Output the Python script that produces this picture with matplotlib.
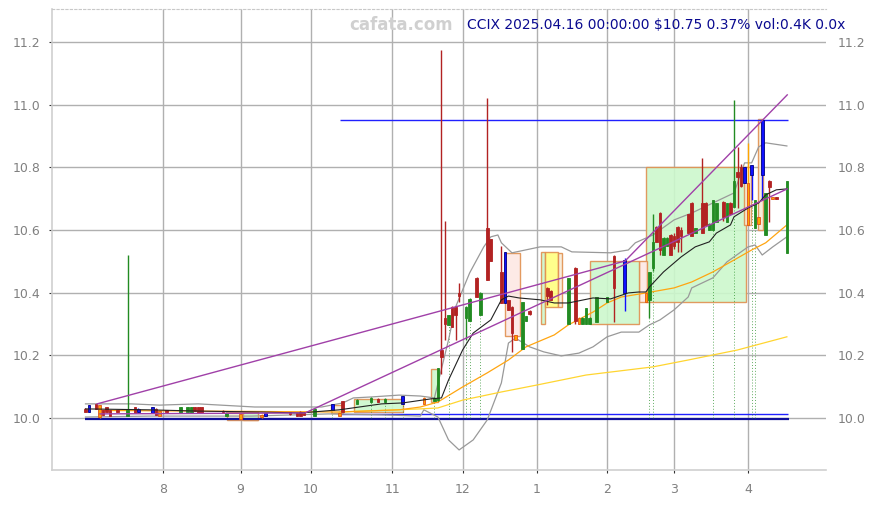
import matplotlib
matplotlib.use('Agg')
import matplotlib.pyplot as plt
from matplotlib.patches import Rectangle

# x axis is a trading-day index: 0 = 2024-07-01, 199 = 2025-04-16
month_idx = [22, 44, 64, 87, 107, 128, 148, 167, 188]
month_labels = ['8', '9', '10', '11', '12', '1', '2', '3', '4']
price_ticks = [10.0, 10.2, 10.4, 10.6, 10.8, 11.0, 11.2]

candle_idx = [0, 1, 3, 4, 5, 6, 7, 9, 12, 14,
              15, 19, 20, 21, 23, 27, 29, 30, 31, 32,
              33, 39, 40, 44, 50, 51, 58, 60, 61, 62,
              65, 70, 72, 73, 77, 81, 83, 85, 90, 96,
              99, 100, 101, 102, 103, 104, 105, 106, 108, 109,
              111, 112, 114, 115, 118, 119, 120, 121, 122, 124,
              125, 126, 131, 132, 137, 139, 140, 141, 142, 143,
              145, 148, 150, 153, 159, 160, 161, 162, 163, 164,
              165, 166, 167, 168, 169, 171, 172, 173, 175, 176,
              177, 178, 179, 181, 182, 183, 184, 185, 186, 187,
              188, 189, 190, 191, 192, 193, 194, 195, 196, 199]
opens = [10.030, 10.020, 10.045, 10.040, 10.025, 10.035, 10.025, 10.022, 10.006, 10.035,
         10.020, 10.035, 10.030, 10.022, 10.022, 10.016, 10.020, 10.016, 10.035, 10.035,
         10.035, 10.020, 10.006, 10.012, 10.010, 10.006, 10.015, 10.016, 10.020, 10.016,
         10.006, 10.025, 10.016, 10.054, 10.045, 10.052, 10.060, 10.050, 10.045, 10.065,
         10.055, 10.057, 10.217, 10.320, 10.297, 10.355, 10.355, 10.400, 10.320, 10.310,
         10.447, 10.330, 10.606, 10.570, 10.466, 10.367, 10.377, 10.355, 10.265, 10.220,
         10.310, 10.340, 10.415, 10.405, 10.300, 10.480, 10.320, 10.300, 10.300, 10.300,
         10.306, 10.370, 10.517, 10.505, 10.400, 10.377, 10.480, 10.610, 10.655, 10.520,
         10.550, 10.585, 10.580, 10.610, 10.600, 10.650, 10.686, 10.590, 10.686, 10.686,
         10.600, 10.600, 10.625, 10.690, 10.625, 10.686, 10.673, 10.785, 10.800, 10.750,
         10.750, 10.807, 10.607, 10.640, 10.776, 10.584, 10.757, 10.705, 10.705, 10.527]
highs = [10.032, 10.042, 10.046, 10.042, 10.026, 10.036, 10.026, 10.024, 10.520, 10.036,
         10.032, 10.036, 10.031, 10.024, 10.024, 10.036, 10.036, 10.036, 10.036, 10.036,
         10.036, 10.025, 10.018, 10.013, 10.012, 10.017, 10.018, 10.017, 10.021, 10.017,
         10.032, 10.046, 10.017, 10.055, 10.060, 10.068, 10.065, 10.063, 10.071, 10.066,
         10.068, 10.160, 11.175, 10.630, 10.330, 10.357, 10.357, 10.430, 10.356, 10.382,
         10.450, 10.402, 11.020, 10.572, 10.550, 10.530, 10.378, 10.357, 10.266, 10.370,
         10.326, 10.345, 10.417, 10.407, 10.447, 10.482, 10.321, 10.321, 10.351, 10.321,
         10.387, 10.386, 10.520, 10.510, 10.401, 10.466, 10.650, 10.612, 10.657, 10.576,
         10.576, 10.587, 10.590, 10.612, 10.610, 10.652, 10.688, 10.606, 10.830, 10.688,
         10.621, 10.697, 10.687, 10.692, 10.687, 10.688, 11.015, 10.865, 10.810, 10.802,
         10.877, 10.808, 10.697, 10.642, 10.950, 10.719, 10.758, 10.706, 10.706, 10.757]
lows = [10.020, 10.018, 10.028, 10.000, 10.010, 10.020, 10.005, 10.018, 10.005, 10.016,
        10.018, 10.016, 10.010, 10.005, 10.018, 10.015, 10.019, 10.015, 10.022, 10.016,
        10.016, 10.015, 10.005, 9.996, 10.000, 10.005, 10.010, 10.006, 10.006, 10.008,
        10.005, 10.024, 10.006, 10.020, 10.044, 10.050, 10.050, 10.049, 10.044, 10.045,
        10.054, 10.055, 10.140, 10.250, 10.296, 10.290, 10.250, 10.370, 10.250, 10.308,
        10.385, 10.328, 10.440, 10.500, 10.366, 10.366, 10.345, 10.210, 10.250, 10.219,
        10.309, 10.330, 10.360, 10.377, 10.299, 10.300, 10.300, 10.299, 10.299, 10.299,
        10.305, 10.369, 10.306, 10.340, 10.370, 10.320, 10.470, 10.560, 10.520, 10.519,
        10.549, 10.520, 10.540, 10.530, 10.530, 10.590, 10.580, 10.589, 10.590, 10.617,
        10.599, 10.599, 10.624, 10.630, 10.624, 10.650, 10.672, 10.670, 10.737, 10.749,
        10.616, 10.696, 10.606, 10.620, 10.696, 10.583, 10.626, 10.700, 10.700, 10.526]
closes = [10.020, 10.040, 10.030, 10.003, 10.010, 10.020, 10.006, 10.020, 10.025, 10.016,
          10.030, 10.016, 10.010, 10.006, 10.020, 10.035, 10.035, 10.035, 10.022, 10.016,
          10.016, 10.018, 10.016, 9.997, 10.002, 10.016, 10.014, 10.006, 10.006, 10.010,
          10.030, 10.045, 10.006, 10.020, 10.058, 10.065, 10.052, 10.062, 10.070, 10.046,
          10.065, 10.158, 10.195, 10.300, 10.330, 10.290, 10.330, 10.390, 10.355, 10.380,
          10.386, 10.400, 10.440, 10.500, 10.367, 10.530, 10.345, 10.270, 10.250, 10.370,
          10.325, 10.332, 10.390, 10.377, 10.447, 10.310, 10.300, 10.320, 10.350, 10.320,
          10.386, 10.385, 10.415, 10.400, 10.370, 10.466, 10.560, 10.560, 10.536, 10.575,
          10.575, 10.520, 10.550, 10.560, 10.580, 10.590, 10.580, 10.605, 10.590, 10.617,
          10.620, 10.696, 10.686, 10.640, 10.686, 10.650, 10.756, 10.770, 10.740, 10.800,
          10.616, 10.775, 10.696, 10.620, 10.950, 10.718, 10.737, 10.700, 10.700, 10.757]
# g = up, r = down, b = blue marker candle, o = orange marker candle
kinds = ("rbrorrrrgr" "bbrorgggrr" "rrgoobrrrr" "gborggrgbo" "ggrrgrrrgg"
         "rgrrrbrrog" "grrrgroggg" "ggrboggrrg" "grrrrrrgrr" "gggrgrgrrb"
         "obgobgrorg")

# overlay lines (index, price)
ma_short_x = [0, 18, 32, 50, 61, 72, 84, 90, 98, 101, 103, 107, 110, 115, 118, 120,
              123, 129, 133, 137, 144, 149, 154, 157, 159, 160, 164, 169, 173, 177,
              179, 183, 184, 188, 191, 193, 196, 199]
ma_short_y = [10.029, 10.026, 10.022, 10.019, 10.016, 10.026, 10.045, 10.048, 10.061,
              10.064, 10.121, 10.217, 10.271, 10.313, 10.377, 10.389, 10.383, 10.377,
              10.367, 10.367, 10.383, 10.380, 10.399, 10.402, 10.402, 10.418, 10.466,
              10.514, 10.546, 10.562, 10.590, 10.616, 10.642, 10.670, 10.686, 10.712,
              10.728, 10.731]
ma_mid_x = [4, 32, 72, 89, 95, 100, 107, 114, 120, 125, 133, 137, 144, 148, 152, 159,
            167, 172, 178, 184, 189, 193, 199]
ma_mid_y = [10.024, 10.022, 10.019, 10.026, 10.035, 10.051, 10.099, 10.144, 10.185,
            10.227, 10.265, 10.297, 10.338, 10.367, 10.386, 10.399, 10.415, 10.434,
            10.466, 10.504, 10.536, 10.559, 10.616]
ma_long_x = [72, 95, 100, 107, 118, 128, 142, 161, 171, 185, 199]
ma_long_y = [10.019, 10.029, 10.032, 10.057, 10.083, 10.105, 10.137, 10.163, 10.185,
             10.217, 10.259]
band_up_x = [0, 13, 21, 32, 48, 67, 73, 76, 81, 89, 95, 99, 103, 105, 109, 113, 115,
             117, 118, 121, 129, 135, 138, 149, 154, 156, 161, 167, 172, 178, 184,
             187, 189, 191, 193, 199]
band_up_y = [10.045, 10.045, 10.041, 10.045, 10.035, 10.035, 10.048, 10.064, 10.067,
             10.073, 10.070, 10.064, 10.249, 10.354, 10.463, 10.546, 10.578, 10.584,
             10.559, 10.527, 10.546, 10.546, 10.530, 10.527, 10.536, 10.559, 10.584,
             10.632, 10.654, 10.686, 10.718, 10.814, 10.814, 10.865, 10.878, 10.868]
band_lo_x = [0, 18, 47, 69, 84, 95, 96, 100, 103, 106, 110, 114, 118, 120, 122, 126,
             130, 135, 140, 144, 148, 152, 157, 160, 163, 167, 171, 172, 178, 182,
             188, 190, 192, 195, 199]
band_lo_y = [10.003, 10.006, 10.006, 10.013, 10.010, 10.006, 10.026, 10.003, 9.930,
             9.898, 9.930, 9.994, 10.112, 10.239, 10.255, 10.227, 10.211, 10.198,
             10.207, 10.227, 10.259, 10.274, 10.274, 10.297, 10.313, 10.345, 10.386,
             10.415, 10.447, 10.498, 10.546, 10.552, 10.520, 10.546, 10.578]
trend1_x = [3.3, 153.1, 199.1]
trend1_y = [10.045, 10.501, 11.031]
trend2_x = [4.1, 62.3, 199.1]
trend2_y = [10.013, 10.016, 10.731]

# boxes: left idx, right idx, low, high, kind
box_left = [159.0, 157.1, 143.2, 129.2, 130.4, 134.1, 119.0, 98.0, 76.2, 69.7, 40.2,
            44.7, 186.9, 190.8]
box_right = [187.4, 159.3, 157.1, 130.4, 134.1, 135.2, 123.3, 100.0, 90.1, 73.1, 49.0,
             49.0, 188.9, 192.2]
box_low = [10.37, 10.37, 10.30, 10.30, 10.355, 10.355, 10.26, 10.05, 10.02, 10.016,
           9.995, 9.995, 10.616, 10.60]
box_high = [10.80, 10.50, 10.50, 10.53, 10.53, 10.525, 10.527, 10.155, 10.061, 10.042,
            10.02, 10.02, 10.80, 10.955]
box_kind = ['g', 'p', 'g', 'g', 'y', 't', 'p', 'g', 'g', 't', 't', 'g', 't', 't']

# days with dotted markers down to the 10.0 level
marker_idx = [70, 81, 85, 90, 99, 103, 108, 109, 112, 160, 161, 178, 184, 189, 190]

# horizontal levels: price, start idx, end idx
level_price = [10.95, 10.013]
level_start = [72.2, 72.2]
level_end = [199.3, 199.3]
base_price = 9.997

title_text = "CCIX 2025.04.16 00:00:00 $10.75 0.37% vol:0.4K 0.0x"


def draw_candles(ax):
    body_col = {'g': '#228b22', 'r': '#b22222', 'b': '#1010ff', 'o': '#ffa500'}
    edge_col = {'g': '#228b22', 'r': '#b22222', 'b': '#000080', 'o': '#e0501c'}
    wick_col = {'g': '#228b22', 'r': '#b22222', 'b': '#1010ff', 'o': '#ffa500'}
    for i, o, h, l, c, k in zip(candle_idx, opens, highs, lows, closes, kinds):
        ax.vlines(i, l, h, color=wick_col[k], linewidth=1.0, zorder=4)
        bottom = min(o, c)
        height = max(abs(c - o), 0.004)
        ax.bar(i, height, bottom=bottom, width=0.75, color=body_col[k],
               edgecolor=edge_col[k], linewidth=0.6, zorder=5)


def draw_boxes(ax):
    fills = {'g': '#ccf8cc', 'p': '#fde8e4', 'y': '#ffff80', 't': '#f8ecd8'}
    for x0, x1, lo, hi, k in zip(box_left, box_right, box_low, box_high, box_kind):
        ax.add_patch(Rectangle((x0, lo), x1 - x0, hi - lo, facecolor=fills[k],
                               edgecolor='#e09050', linewidth=1.0, alpha=0.9,
                               zorder=2))


def main():
    fig = plt.figure(figsize=(8.76, 5.05), dpi=100)
    ax = fig.add_axes([52 / 876, 35 / 505, 774 / 876, 461 / 505])

    ax.set_xlim(-9.5, 210.1)
    ax.set_ylim(9.834, 11.305)

    ax.set_xticks(month_idx)
    ax.set_xticklabels(month_labels)
    ax.set_yticks(price_ticks)
    ax.set_yticklabels([f"{p:.1f}" for p in price_ticks])
    ax.tick_params(axis='both', colors='#333333', labelcolor='#808080',
                   labelsize=9, length=2.5, width=0.8)
    ax.tick_params(axis='y', labelright=True, right=False, pad=6)
    ax.tick_params(axis='x', pad=7)
    ax.grid(True, color='#b0b0b0', linewidth=1.0, zorder=0)
    ax.set_axisbelow(True)

    for side in ['left', 'bottom']:
        ax.spines[side].set_color('#d0d0d0')
        ax.spines[side].set_linewidth(1.2)
    ax.spines['right'].set_visible(False)
    ax.spines['top'].set_color('#c8c8c8')
    ax.spines['top'].set_linestyle((0, (2, 2)))
    ax.spines['top'].set_linewidth(0.8)

    draw_boxes(ax)

    # horizontal levels
    for p, x0, x1 in zip(level_price, level_start, level_end):
        ax.hlines(p, x0, x1, color='#2020ff', linewidth=1.0, zorder=3)
    ax.hlines(base_price, candle_idx[0], candle_idx[-1] + 0.6, color='#10109a',
              linewidth=1.6, zorder=3)

    # dotted markers
    low_of = dict(zip(candle_idx, lows))
    for i in marker_idx:
        ax.vlines(i, 10.0, low_of[i], color='#228b22', linewidth=0.7,
                  linestyles=(0, (1, 2)), alpha=0.7, zorder=3)

    # bands and averages
    ax.plot(band_up_x, band_up_y, color='#999999', linewidth=0.9, zorder=3)
    ax.plot(band_lo_x, band_lo_y, color='#999999', linewidth=0.9, zorder=3)
    ax.plot(ma_long_x, ma_long_y, color='#ffd530', linewidth=0.9, zorder=3)
    ax.plot(ma_mid_x, ma_mid_y, color='#ffa510', linewidth=0.9, zorder=3)
    ax.plot(ma_short_x, ma_short_y, color='#222222', linewidth=0.8, zorder=6)

    # trend lines
    ax.plot(trend1_x, trend1_y, color='#a040a8', linewidth=1.0, zorder=6)
    ax.plot(trend2_x, trend2_y, color='#a040a8', linewidth=1.0, zorder=6)

    draw_candles(ax)

    fig.text(401 / 876, 0.950, 'cafata.com', color='#d0d0d0', fontsize=12,
             fontweight='bold', ha='center', va='center')
    fig.text(467 / 876, 0.950, title_text, color='#0a0a90', fontsize=10,
             ha='left', va='center')

    fig.savefig('out.png', dpi=100)
    plt.close(fig)


if __name__ == "__main__":
    main()
